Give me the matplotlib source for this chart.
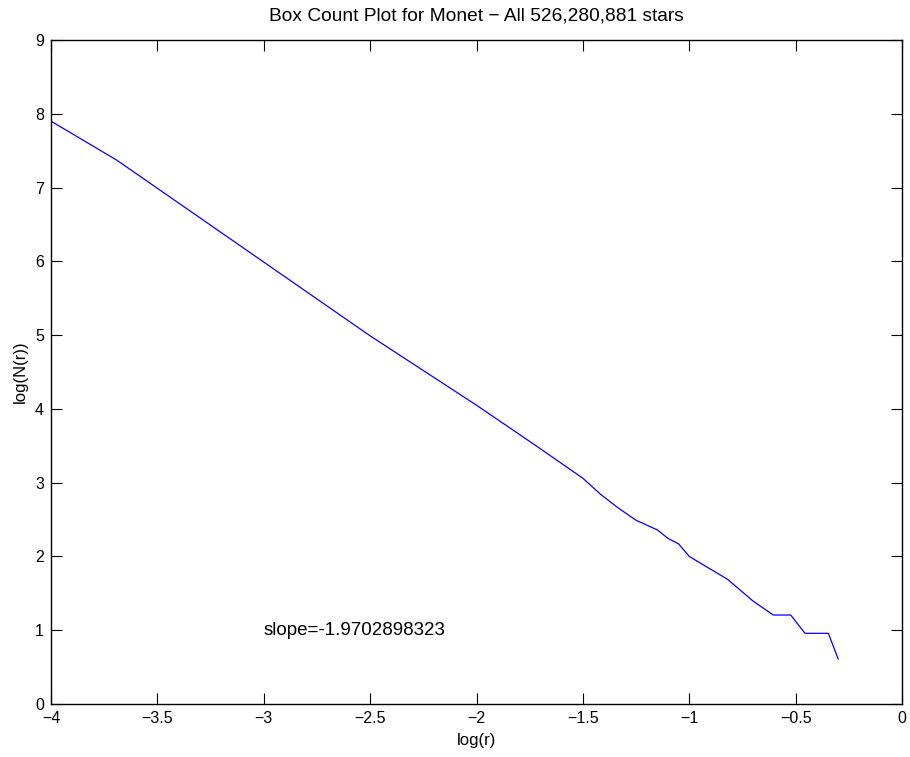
import numpy as np
import matplotlib
matplotlib.use("Agg")
from matplotlib import pyplot as plt

# box count results: log(r) vs log(N(r))
log_r = [-4.0, -3.69, -3.0, -2.5, -2.0, -1.72, -1.5, -1.42, -1.34, -1.25,
         -1.15, -1.10, -1.05, -1.0, -0.82, -0.70, -0.605, -0.523, -0.456,
         -0.346, -0.30]
log_n = [7.90, 7.37, 5.99, 4.99, 4.05, 3.50, 3.06, 2.85, 2.67, 2.49,
         2.36, 2.245, 2.17, 2.00, 1.69, 1.395, 1.206, 1.206, 0.958,
         0.958, 0.61]
slope_txt = "slope=-1.9702898323"
xticks = [-4, -3.5, -3, -2.5, -2, -1.5, -1, -0.5, 0]
yticks = list(range(10))

plt.rcParams['font.family'] = ['Liberation Sans', 'DejaVu Sans']
plt.rcParams['font.size'] = 11.5

fig = plt.figure(figsize=(9.1, 7.57), dpi=100)
ax = fig.add_axes([51/910, 53/757, 851/910, 664/757])

ax.plot(log_r, log_n, color='blue', lw=0.9)
ax.text(-3, 1, slope_txt, ha='left', va='center', fontsize=13.5)

ax.set_xlim(-4, 0)
ax.set_ylim(0, 9)
ax.set_xticks(xticks)
ax.set_xticklabels(['\u22124', '\u22123.5', '\u22123', '\u22122.5', '\u22122',
                    '\u22121.5', '\u22121', '\u22120.5', '0'])
ax.set_yticks(yticks)
ax.tick_params(direction='in', length=8, width=0.8, top=True, right=True, pad=5)
for s in ax.spines.values():
    s.set_linewidth(1.0)

ax.set_xlabel('log(r)', labelpad=5, fontsize=12)
ax.set_ylabel('log(N(r))', labelpad=5, fontsize=12)
ax.set_title('Box Count Plot for Monet \u2212 All 526,280,881 stars', pad=14)

fig.savefig('out.png', dpi=100)
